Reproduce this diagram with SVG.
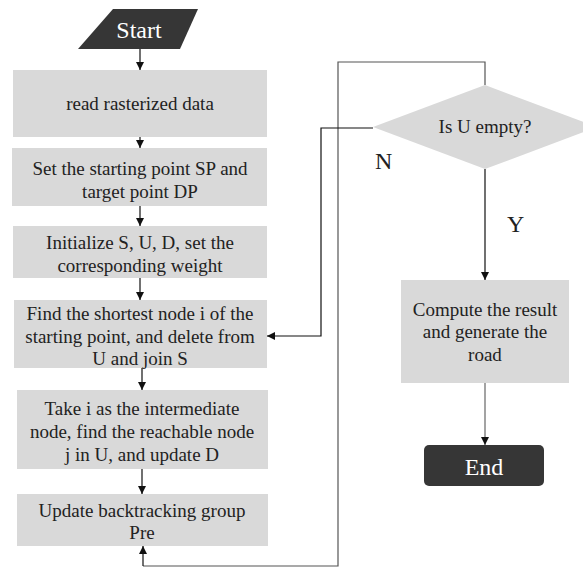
<svg xmlns="http://www.w3.org/2000/svg" width="583" height="570" viewBox="0 0 583 570" font-family="Liberation Serif, DejaVu Serif, serif">
  <defs>
    <marker id="arrow" markerWidth="10" markerHeight="10" refX="8" refY="5" orient="auto" markerUnits="userSpaceOnUse">
      <path d="M0,1 L8,5 L0,9 Z" fill="#111"/>
    </marker>
    <style>
      .box { fill: #d9d9d9; }
      .dark { fill: #363636; }
      .t { font-size: 19px; fill: #222; text-anchor: middle; }
      .tw { font-size: 24px; fill: #fff; text-anchor: middle; }
      .lbl { font-size: 24px; fill: #222; }
      .flow { fill: none; stroke: #111; stroke-width: 1.2; marker-end: url(#arrow); }
      .loop { fill: none; stroke: #555; stroke-width: 1.2; }
    </style>
  </defs>
  <rect width="583" height="570" fill="#fff"/>

  <g id="start">
    <polygon class="dark" points="113,9 198,9 180,49 78,49"/>
    <text class="tw" x="139" y="38">Start</text>
  </g>

  <g id="read">
    <rect class="box" x="13" y="70" width="254" height="67"/>
    <text class="t" x="140" y="110">read rasterized data</text>
  </g>

  <g id="set-points">
    <rect class="box" x="12" y="148" width="255" height="58"/>
    <text class="t" x="140" y="175">Set the starting point SP and</text>
    <text class="t" x="140" y="198">target point DP</text>
  </g>

  <g id="init">
    <rect class="box" x="13" y="226" width="254" height="52"/>
    <text class="t" x="140" y="249">Initialize S, U, D, set the</text>
    <text class="t" x="140" y="272">corresponding weight</text>
  </g>

  <g id="find-shortest">
    <rect class="box" x="14" y="300" width="253" height="68"/>
    <text class="t" x="140" y="320">Find the shortest node i of the</text>
    <text class="t" x="140" y="343">starting point, and delete from</text>
    <text class="t" x="140" y="365">U and join S</text>
  </g>

  <g id="update-d">
    <rect class="box" x="17" y="390" width="251" height="79"/>
    <text class="t" x="142" y="415">Take i as the intermediate</text>
    <text class="t" x="142" y="438">node, find the reachable node</text>
    <text class="t" x="142" y="461">j in U, and update D</text>
  </g>

  <g id="update-pre">
    <rect class="box" x="17" y="494" width="251" height="52"/>
    <text class="t" x="142" y="517">Update backtracking group</text>
    <text class="t" x="142" y="539">Pre</text>
  </g>

  <g id="decision">
    <polygon class="box" points="485,85 597,127 485,169 373,127"/>
    <text class="t" x="485" y="133">Is U empty?</text>
  </g>

  <g id="compute">
    <rect class="box" x="401" y="280" width="168" height="103"/>
    <text class="t" x="485" y="316">Compute the result</text>
    <text class="t" x="485" y="338">and generate the</text>
    <text class="t" x="485" y="361">road</text>
  </g>

  <g id="end">
    <rect class="dark" x="424" y="445" width="120" height="41" rx="5" ry="5"/>
    <text class="tw" x="484" y="475">End</text>
  </g>

  <g id="connectors">
    <line class="flow" x1="140" y1="49" x2="140" y2="70"/>
    <line class="flow" x1="140" y1="137" x2="140" y2="148"/>
    <line class="flow" x1="140" y1="206" x2="140" y2="226"/>
    <line class="flow" x1="140" y1="278" x2="140" y2="300"/>
    <line class="flow" x1="142" y1="368" x2="142" y2="390"/>
    <line class="flow" x1="142" y1="469" x2="142" y2="494"/>
    <!-- loop back from the bottom up to the decision -->
    <polyline class="loop" points="143,566 338,566 338,62 485,62 485,85"/>
    <line class="flow" x1="143" y1="566" x2="143" y2="546"/>
    <!-- N branch -->
    <polyline class="flow" points="373,128 321,128 321,336 267,336"/>
    <!-- Y branch -->
    <line class="flow" x1="485" y1="169" x2="485" y2="280"/>
    <line class="flow" x1="485" y1="383" x2="485" y2="445" style="stroke:#666"/>
    <text class="lbl" x="375" y="169">N</text>
    <text class="lbl" x="507" y="232">Y</text>
  </g>
</svg>
